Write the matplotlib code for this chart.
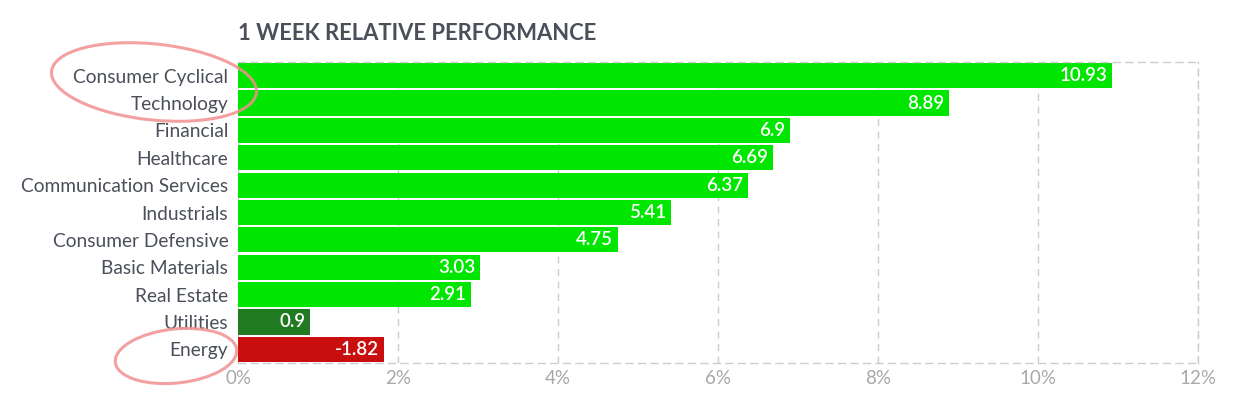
import matplotlib.pyplot as plt
from matplotlib.patches import Ellipse

plt.rcParams['font.family'] = ['Lato', 'DejaVu Sans']

sectors = ["Consumer Cyclical", "Technology", "Financial", "Healthcare",
           "Communication Services", "Industrials", "Consumer Defensive",
           "Basic Materials", "Real Estate", "Utilities", "Energy"]
perf = [10.93, 8.89, 6.9, 6.69, 6.37, 5.41, 4.75, 3.03, 2.91, 0.9, -1.82]
xticks = [0, 2, 4, 6, 8, 10, 12]


def bar_color(v):
    if v < 0:
        return "#c80e0e"
    if v < 1:
        return "#1f7a22"
    return "#00e600"


fig = plt.figure(figsize=(12.56, 4.09), dpi=100)
ax = fig.add_axes([238 / 1256, 46 / 409, 960 / 1256, 301 / 409])

ypos = list(range(len(sectors)))
widths = [abs(v) for v in perf]
ax.barh(ypos, widths, height=0.92, color=[bar_color(v) for v in perf], zorder=2)
for y, w, v in zip(ypos, widths, perf):
    ax.text(w - 0.06, y, f"{v:g}", ha="right", va="center",
            color="white", fontsize=13.5, fontweight="semibold", zorder=3)

ax.set_xlim(0, 12)
ax.set_ylim(len(sectors) - 0.5, -0.5)
ax.set_xticks(xticks)
ax.set_xticklabels([f"{t}%" for t in xticks])
ax.set_yticks(ypos)
ax.set_yticklabels(sectors)
ax.tick_params(axis="both", length=0)
ax.tick_params(axis="x", colors="#a8a8a8", labelsize=13.5, pad=5)
ax.tick_params(axis="y", colors="#4a4f5a", labelsize=13.75, pad=7)

ax.grid(axis="x", color="#cccccc", linestyle=(0, (5, 4)), linewidth=1, zorder=0)
ax.spines["left"].set_visible(False)
for side in ["top", "bottom", "right"]:
    ax.spines[side].set_color("#cccccc")
    ax.spines[side].set_linestyle((0, (5, 4)))
    ax.spines[side].set_linewidth(1)

fig.text(238 / 1256, 1 - 33 / 409, "1 WEEK RELATIVE PERFORMANCE",
         ha="left", va="center", fontsize=15.8, fontweight="bold", color="#4a4f5a")

# hand-drawn highlight circles
ov = fig.add_axes([0, 0, 1, 1], facecolor="none")
ov.set_xlim(0, 1256)
ov.set_ylim(409, 0)
ov.axis("off")
ov.add_patch(Ellipse((154, 82), 206, 76, angle=6, fill=False,
                     edgecolor="#f29090", linewidth=2.2, alpha=0.85))
ov.add_patch(Ellipse((176, 356), 122, 54, angle=-6, fill=False,
                     edgecolor="#f29090", linewidth=2.2, alpha=0.85))

fig.savefig("out.png", dpi=100)
